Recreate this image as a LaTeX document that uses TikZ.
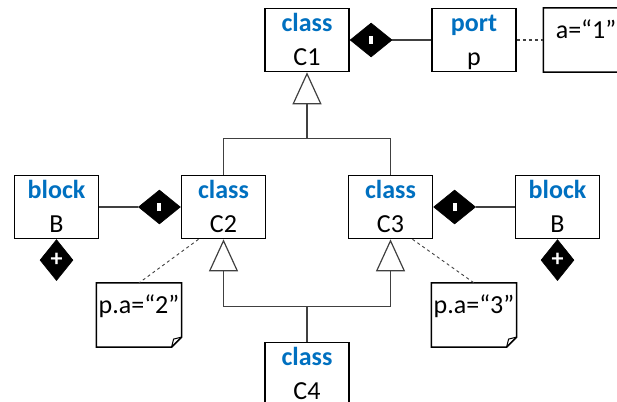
\documentclass[tikz,border=0pt]{standalone}
\usepackage{fontspec}
\setmainfont{Carlito}
\usetikzlibrary{positioning,shapes.geometric,arrows.meta}
\definecolor{kwblue}{RGB}{0,112,192}
\newcommand{\kw}[1]{\textcolor{kwblue}{\textbf{#1}}}

\begin{document}
\begin{tikzpicture}[x=1pt,y=-1pt,node distance=167pt,line width=1.2pt,
    font=\fontsize{26pt}{34pt}\selectfont,
    class node/.style={draw,line width=1.6pt,minimum width=84pt,minimum height=63pt,inner sep=0pt,align=center,text height=57pt,text depth=6pt},
    note node/.style={minimum width=84pt,minimum height=63pt,inner sep=0pt,text height=30pt,text depth=33pt},
    comp diamond/.style={diamond,fill=black,draw=black,line width=0.6pt,minimum width=42pt,minimum height=34pt,inner sep=0pt},
    plus diamond/.style={diamond,fill=black,draw=black,line width=0.6pt,minimum width=33pt,minimum height=41pt,inner sep=0pt,text=white,font=\fontsize{24pt}{24pt}\selectfont\bfseries},
    inherits/.style={-{Triangle[open,length=32pt,width=29pt]}},
    link/.style={draw=black!75}]
    \useasboundingbox (0,0) rectangle (617,401);
    \clip (0,0) rectangle (617,401);

    \node[class node] (c1) at (307,40) {\kw{class}\\C1};
    \node[class node] (p) [right of=c1] {\kw{port}\\p};
    \node[class node] (c2) [below of=c1,xshift=-83.5pt] {\kw{class}\\C2};
    \node[class node] (c3) [right of=c2] {\kw{class}\\C3};
    \node[class node] (b1) [left of=c2] {\kw{block}\\B};
    \node[class node] (b2) [right of=c3] {\kw{block}\\B};
    \node[class node] (c4) [below of=c2,xshift=83.5pt] {\kw{class}\\C4};

    \node[note node] (n1) [right of=p,xshift=-55pt] {a=“1”};
    \node[note node] (n2) [below of=c2,xshift=-84.5pt,yshift=59pt] {p.a=“2”};
    \node[note node] (n3) [below of=c3,xshift=83.5pt,yshift=59pt] {p.a=“3”};

    % composition ends
    \node[comp diamond] (d1) [right=0pt of c1] {\textcolor{white}{\rule{4pt}{8pt}}};
    \node[comp diamond] (d2) [left=0pt of c2] {\textcolor{white}{\rule{4pt}{8pt}}};
    \node[comp diamond] (d3) [right=0pt of c3] {\textcolor{white}{\rule{4pt}{8pt}}};
    \node[plus diamond] (e1) [below=0pt of b1] {+};
    \node[plus diamond] (e2) [below=0pt of b2] {+};

    \path[link]
        (d1) edge (p)
        (b1) edge (d2)
        (d3) edge (b2);

    % notes
    \foreach \n in {n1,n2,n3} {
        \draw[line width=1.6pt] (\n.north west) -- (\n.north east) -- ([yshift=10pt]\n.south east)
            -- ([xshift=-10pt]\n.south east) -- (\n.south west) -- cycle;
        \draw[line width=1pt] ([xshift=-10pt]\n.south east) -- ([xshift=-8pt,yshift=8pt]\n.south east) -- ([yshift=10pt]\n.south east);
    }
    \draw[link,dashed] (p) -- (n1);
    \draw[link,dashed,line width=0.9pt] ([xshift=-25pt]c2.south) -- (n2.north);
    \draw[link,dashed,line width=0.9pt] ([xshift=22pt]c3.south) -- (n3.north);

    % generalisation
    \coordinate[above=36pt of c2.north] (j1);
    \coordinate[above=35pt of c4.north] (j2);
    \draw[link] (c2.north) -- (j1) -| (c3.north);
    \draw[link,inherits] (j1 -| c1.south) -- (c1.south);
    \draw[link,inherits] (c4.north) -- (j2) -| (c2.south);
    \draw[link,inherits] (j2) -| (c3.south);
\end{tikzpicture}
\end{document}
